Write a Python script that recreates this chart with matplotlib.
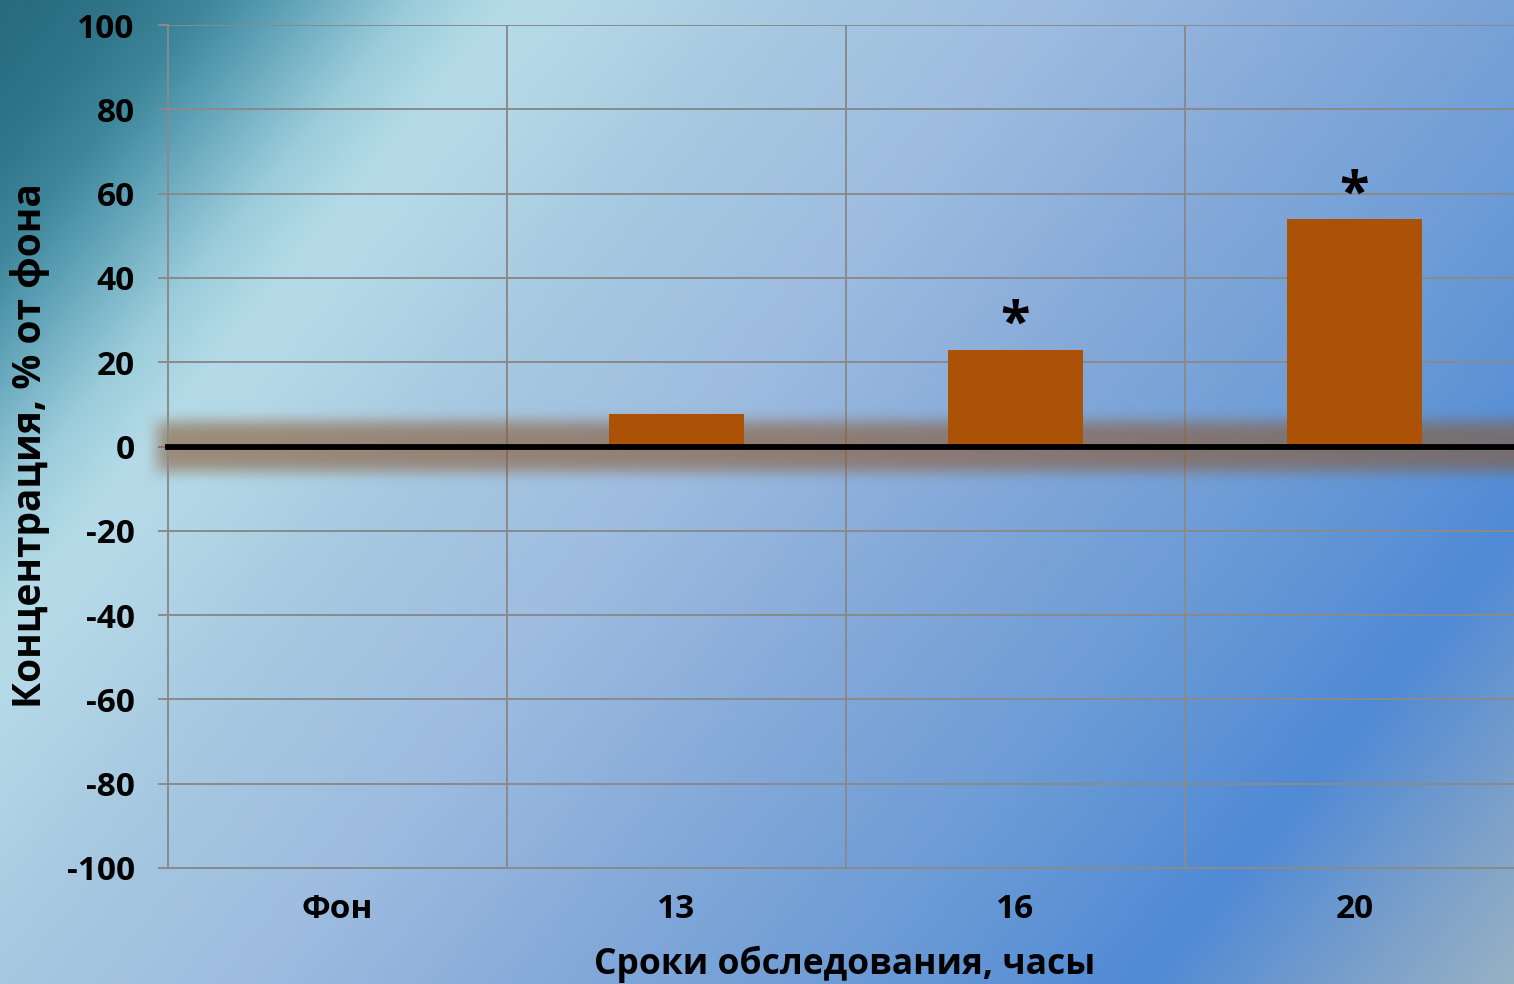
import numpy as np
import matplotlib
matplotlib.use("Agg")
import matplotlib.pyplot as plt
from matplotlib.colors import to_rgb

# Data
categories = ["Фон", "13", "16", "20"]
values = [0.0, 7.6, 23.0, 54.0]
significant = [False, False, True, True]
y_ticks = [-100, -80, -60, -40, -20, 0, 20, 40, 60, 80, 100]

x_label = "Сроки обследования, часы"
y_label = "Концентрация, % от фона"

plt.rcParams["font.family"] = ["Open Sans", "DejaVu Sans"]
plt.rcParams["font.weight"] = "bold"

W, H, DPI = 1514, 984, 100
fig = plt.figure(figsize=(W / DPI, H / DPI), dpi=DPI)

# Diagonal gradient backdrop
yy, xx = np.mgrid[0:H, 0:W]
t = (1.22 * xx + yy) / (1.22 * W + H)
stops = [0.0, 0.05, 0.09, 0.12, 0.15, 0.18, 0.22, 0.26, 0.34, 0.45, 0.58,
         0.72, 0.84, 0.93, 1.0]
cols = ["#286a7e", "#2f7489", "#3e869b", "#5a9eb3", "#7bb6c8", "#9ccddb",
        "#b4dbe7", "#b3d7e6", "#a7c9e1", "#9ebde0", "#86aad9", "#6b9bd6",
        "#508ad5", "#7ba0ca", "#98b2c4"]
rgb = np.array([to_rgb(c) for c in cols])
bg_img = np.dstack([np.interp(t, stops, rgb[:, k]) for k in range(3)])
bg = fig.add_axes([0, 0, 1, 1], zorder=-10)
bg.imshow(bg_img, aspect="auto", extent=[0, 1, 0, 1], interpolation="bilinear")
bg.axis("off")

ax = fig.add_axes([168 / W, (H - 868) / H, (1524 - 168) / W, (868 - 25) / H])
ax.patch.set_alpha(0)

x = np.arange(len(categories))
ax.bar(x, values, width=0.4, color="#ab5207", zorder=3)

# Soft brown glow behind the zero line
gy = np.linspace(-10, 10, 201)
gx = np.linspace(-0.62, 3.6, 400)
px_per_unit = (868 - 25) / 200.0
a_y = 0.6 * np.exp(-(np.abs(gy) * px_per_unit / 27.0) ** 4)
a_x = np.clip((gx + 0.58) / 0.09, 0, 1)
a_x = a_x * a_x * (3 - 2 * a_x)
glow = np.zeros((gy.size, gx.size, 4))
glow[..., 0], glow[..., 1], glow[..., 2] = np.array(to_rgb("#8a5830"))[:, None, None]
glow[..., 3] = a_y[:, None] * a_x[None, :]
ax.imshow(glow, extent=[gx[0], gx[-1], gy[0], gy[-1]], aspect="auto",
          origin="lower", interpolation="bilinear", zorder=2, clip_on=False)

ax.axhline(0, color="black", lw=4.2, zorder=4, clip_on=False)

for xi, v, s in zip(x, values, significant):
    if s:
        ax.annotate("*", (xi, v), xytext=(0, 17), textcoords="offset points",
                    ha="center", va="center", fontsize=39, fontweight="bold",
                    color="black", zorder=5)

ax.set_xlim(-0.5, 3.5)
ax.set_ylim(-100, 100)
ax.set_yticks(y_ticks)
ax.set_yticklabels([str(v) for v in y_ticks])
ax.set_xticks(x)
ax.set_xticklabels(categories)
ax.set_xticks(x[:-1] + 0.5, minor=True)

grid_c = "#8a8a8a"
ax.set_axisbelow(True)
ax.grid(True, axis="y", which="major", color=grid_c, lw=1.4)
ax.grid(True, axis="x", which="minor", color=grid_c, lw=1.4)
ax.grid(False, axis="x", which="major")

for side in ["top", "right"]:
    ax.spines[side].set_visible(False)
for side in ["left", "bottom"]:
    ax.spines[side].set_color(grid_c)
    ax.spines[side].set_linewidth(1.4)

ax.tick_params(axis="y", which="major", length=7, width=1.4, color=grid_c,
               pad=17, labelsize=24)
ax.tick_params(axis="x", which="major", length=0, pad=18, labelsize=24)
ax.tick_params(axis="x", which="minor", length=0)
for lbl in ax.get_xticklabels() + ax.get_yticklabels():
    lbl.set_fontweight("bold")

fig.text(845 / W, 1 - 964 / H, x_label, ha="center",
         va="center", fontsize=25.5, fontweight="bold")
fig.text(30 / W, 1 - 446 / H, y_label, ha="center", va="center",
         rotation=90, fontsize=28, fontweight="bold")

fig.savefig("out.png", dpi=DPI)
